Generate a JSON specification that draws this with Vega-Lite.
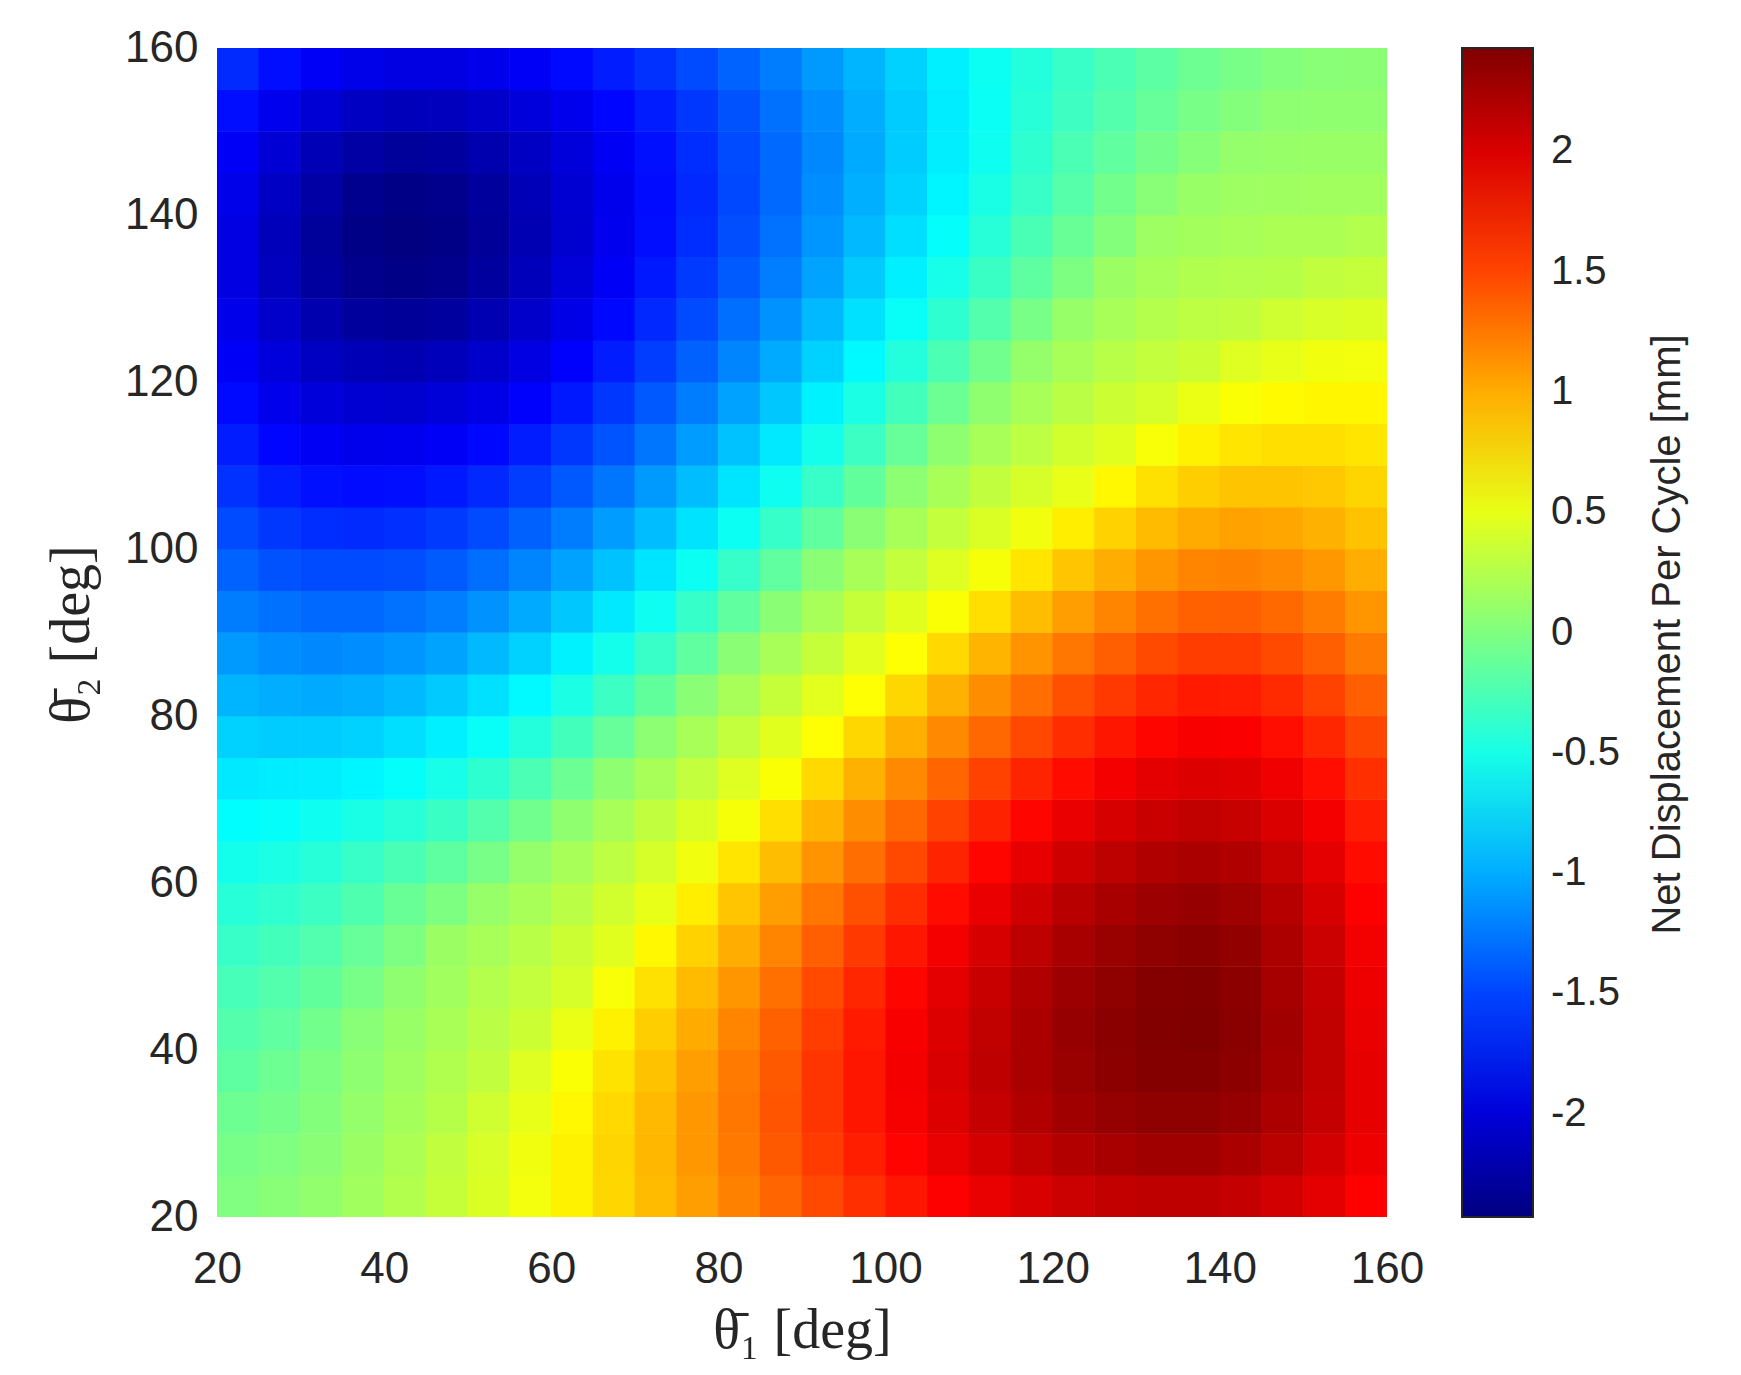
{
"$schema":"https://vega.github.io/schema/vega-lite/v6.json",
"width":1170,"height":1169,
"autosize":{"type":"none"},
"padding":{"left":217,"top":48,"right":354,"bottom":158},
"background":"white",
"config":{"view":{"stroke":null}},
"datasets":{"grid":[
{"t1":22.5,"t2":22.5,"v":0},{"t1":27.5,"t2":22.5,"v":0.04},{"t1":32.5,"t2":22.5,"v":0.09},{"t1":37.5,"t2":22.5,"v":0.16},{"t1":42.5,"t2":22.5,"v":0.24},{"t1":47.5,"t2":22.5,"v":0.33},{"t1":52.5,"t2":22.5,"v":0.43},{"t1":57.5,"t2":22.5,"v":0.55},{"t1":62.5,"t2":22.5,"v":0.67},{"t1":67.5,"t2":22.5,"v":0.8},{"t1":72.5,"t2":22.5,"v":0.93},{"t1":77.5,"t2":22.5,"v":1.07},{"t1":82.5,"t2":22.5,"v":1.21},{"t1":87.5,"t2":22.5,"v":1.34},{"t1":92.5,"t2":22.5,"v":1.48},{"t1":97.5,"t2":22.5,"v":1.6},{"t1":102.5,"t2":22.5,"v":1.72},{"t1":107.5,"t2":22.5,"v":1.83},{"t1":112.5,"t2":22.5,"v":1.93},{"t1":117.5,"t2":22.5,"v":2.01},{"t1":122.5,"t2":22.5,"v":2.07},{"t1":127.5,"t2":22.5,"v":2.11},{"t1":132.5,"t2":22.5,"v":2.13},{"t1":137.5,"t2":22.5,"v":2.13},{"t1":142.5,"t2":22.5,"v":2.1},{"t1":147.5,"t2":22.5,"v":2.04},{"t1":152.5,"t2":22.5,"v":1.95},{"t1":157.5,"t2":22.5,"v":1.83},
{"t1":22.5,"t2":27.5,"v":-0.04},{"t1":27.5,"t2":27.5,"v":0},{"t1":32.5,"t2":27.5,"v":0.05},{"t1":37.5,"t2":27.5,"v":0.13},{"t1":42.5,"t2":27.5,"v":0.21},{"t1":47.5,"t2":27.5,"v":0.31},{"t1":52.5,"t2":27.5,"v":0.42},{"t1":57.5,"t2":27.5,"v":0.54},{"t1":62.5,"t2":27.5,"v":0.67},{"t1":67.5,"t2":27.5,"v":0.81},{"t1":72.5,"t2":27.5,"v":0.95},{"t1":77.5,"t2":27.5,"v":1.1},{"t1":82.5,"t2":27.5,"v":1.25},{"t1":87.5,"t2":27.5,"v":1.4},{"t1":92.5,"t2":27.5,"v":1.54},{"t1":97.5,"t2":27.5,"v":1.68},{"t1":102.5,"t2":27.5,"v":1.81},{"t1":107.5,"t2":27.5,"v":1.93},{"t1":112.5,"t2":27.5,"v":2.03},{"t1":117.5,"t2":27.5,"v":2.12},{"t1":122.5,"t2":27.5,"v":2.19},{"t1":127.5,"t2":27.5,"v":2.24},{"t1":132.5,"t2":27.5,"v":2.27},{"t1":137.5,"t2":27.5,"v":2.27},{"t1":142.5,"t2":27.5,"v":2.23},{"t1":147.5,"t2":27.5,"v":2.15},{"t1":152.5,"t2":27.5,"v":2.04},{"t1":157.5,"t2":27.5,"v":1.9},
{"t1":22.5,"t2":32.5,"v":-0.09},{"t1":27.5,"t2":32.5,"v":-0.05},{"t1":32.5,"t2":32.5,"v":0.02},{"t1":37.5,"t2":32.5,"v":0.1},{"t1":42.5,"t2":32.5,"v":0.18},{"t1":47.5,"t2":32.5,"v":0.26},{"t1":52.5,"t2":32.5,"v":0.38},{"t1":57.5,"t2":32.5,"v":0.5},{"t1":62.5,"t2":32.5,"v":0.64},{"t1":67.5,"t2":32.5,"v":0.79},{"t1":72.5,"t2":32.5,"v":0.94},{"t1":77.5,"t2":32.5,"v":1.1},{"t1":82.5,"t2":32.5,"v":1.26},{"t1":87.5,"t2":32.5,"v":1.42},{"t1":92.5,"t2":32.5,"v":1.57},{"t1":97.5,"t2":32.5,"v":1.72},{"t1":102.5,"t2":32.5,"v":1.86},{"t1":107.5,"t2":32.5,"v":1.99},{"t1":112.5,"t2":32.5,"v":2.1},{"t1":117.5,"t2":32.5,"v":2.2},{"t1":122.5,"t2":32.5,"v":2.27},{"t1":127.5,"t2":32.5,"v":2.33},{"t1":132.5,"t2":32.5,"v":2.36},{"t1":137.5,"t2":32.5,"v":2.36},{"t1":142.5,"t2":32.5,"v":2.32},{"t1":147.5,"t2":32.5,"v":2.22},{"t1":152.5,"t2":32.5,"v":2.1},{"t1":157.5,"t2":32.5,"v":1.94},
{"t1":22.5,"t2":37.5,"v":-0.16},{"t1":27.5,"t2":37.5,"v":-0.09},{"t1":32.5,"t2":37.5,"v":-0.01},{"t1":37.5,"t2":37.5,"v":0.07},{"t1":42.5,"t2":37.5,"v":0.15},{"t1":47.5,"t2":37.5,"v":0.23},{"t1":52.5,"t2":37.5,"v":0.31},{"t1":57.5,"t2":37.5,"v":0.45},{"t1":62.5,"t2":37.5,"v":0.59},{"t1":67.5,"t2":37.5,"v":0.74},{"t1":72.5,"t2":37.5,"v":0.9},{"t1":77.5,"t2":37.5,"v":1.07},{"t1":82.5,"t2":37.5,"v":1.24},{"t1":87.5,"t2":37.5,"v":1.4},{"t1":92.5,"t2":37.5,"v":1.57},{"t1":97.5,"t2":37.5,"v":1.72},{"t1":102.5,"t2":37.5,"v":1.87},{"t1":107.5,"t2":37.5,"v":2.01},{"t1":112.5,"t2":37.5,"v":2.13},{"t1":117.5,"t2":37.5,"v":2.23},{"t1":122.5,"t2":37.5,"v":2.31},{"t1":127.5,"t2":37.5,"v":2.37},{"t1":132.5,"t2":37.5,"v":2.41},{"t1":137.5,"t2":37.5,"v":2.41},{"t1":142.5,"t2":37.5,"v":2.37},{"t1":147.5,"t2":37.5,"v":2.26},{"t1":152.5,"t2":37.5,"v":2.12},{"t1":157.5,"t2":37.5,"v":1.94},
{"t1":22.5,"t2":42.5,"v":-0.21},{"t1":27.5,"t2":42.5,"v":-0.15},{"t1":32.5,"t2":42.5,"v":-0.06},{"t1":37.5,"t2":42.5,"v":0.04},{"t1":42.5,"t2":42.5,"v":0.12},{"t1":47.5,"t2":42.5,"v":0.2},{"t1":52.5,"t2":42.5,"v":0.28},{"t1":57.5,"t2":42.5,"v":0.36},{"t1":62.5,"t2":42.5,"v":0.51},{"t1":67.5,"t2":42.5,"v":0.67},{"t1":72.5,"t2":42.5,"v":0.84},{"t1":77.5,"t2":42.5,"v":1.01},{"t1":82.5,"t2":42.5,"v":1.19},{"t1":87.5,"t2":42.5,"v":1.36},{"t1":92.5,"t2":42.5,"v":1.53},{"t1":97.5,"t2":42.5,"v":1.7},{"t1":102.5,"t2":42.5,"v":1.85},{"t1":107.5,"t2":42.5,"v":1.99},{"t1":112.5,"t2":42.5,"v":2.12},{"t1":117.5,"t2":42.5,"v":2.23},{"t1":122.5,"t2":42.5,"v":2.32},{"t1":127.5,"t2":42.5,"v":2.38},{"t1":132.5,"t2":42.5,"v":2.42},{"t1":137.5,"t2":42.5,"v":2.43},{"t1":142.5,"t2":42.5,"v":2.38},{"t1":147.5,"t2":42.5,"v":2.27},{"t1":152.5,"t2":42.5,"v":2.12},{"t1":157.5,"t2":42.5,"v":1.92},
{"t1":22.5,"t2":47.5,"v":-0.27},{"t1":27.5,"t2":47.5,"v":-0.21},{"t1":32.5,"t2":47.5,"v":-0.14},{"t1":37.5,"t2":47.5,"v":-0.04},{"t1":42.5,"t2":47.5,"v":0.08},{"t1":47.5,"t2":47.5,"v":0.16},{"t1":52.5,"t2":47.5,"v":0.25},{"t1":57.5,"t2":47.5,"v":0.32},{"t1":62.5,"t2":47.5,"v":0.41},{"t1":67.5,"t2":47.5,"v":0.58},{"t1":72.5,"t2":47.5,"v":0.75},{"t1":77.5,"t2":47.5,"v":0.93},{"t1":82.5,"t2":47.5,"v":1.11},{"t1":87.5,"t2":47.5,"v":1.29},{"t1":92.5,"t2":47.5,"v":1.47},{"t1":97.5,"t2":47.5,"v":1.64},{"t1":102.5,"t2":47.5,"v":1.8},{"t1":107.5,"t2":47.5,"v":1.95},{"t1":112.5,"t2":47.5,"v":2.08},{"t1":117.5,"t2":47.5,"v":2.2},{"t1":122.5,"t2":47.5,"v":2.29},{"t1":127.5,"t2":47.5,"v":2.36},{"t1":132.5,"t2":47.5,"v":2.41},{"t1":137.5,"t2":47.5,"v":2.42},{"t1":142.5,"t2":47.5,"v":2.37},{"t1":147.5,"t2":47.5,"v":2.25},{"t1":152.5,"t2":47.5,"v":2.1},{"t1":157.5,"t2":47.5,"v":1.9},
{"t1":22.5,"t2":52.5,"v":-0.34},{"t1":27.5,"t2":52.5,"v":-0.29},{"t1":32.5,"t2":52.5,"v":-0.22},{"t1":37.5,"t2":52.5,"v":-0.12},{"t1":42.5,"t2":52.5,"v":-0.01},{"t1":47.5,"t2":52.5,"v":0.13},{"t1":52.5,"t2":52.5,"v":0.19},{"t1":57.5,"t2":52.5,"v":0.27},{"t1":62.5,"t2":52.5,"v":0.36},{"t1":67.5,"t2":52.5,"v":0.46},{"t1":72.5,"t2":52.5,"v":0.64},{"t1":77.5,"t2":52.5,"v":0.82},{"t1":82.5,"t2":52.5,"v":1.0},{"t1":87.5,"t2":52.5,"v":1.19},{"t1":92.5,"t2":52.5,"v":1.37},{"t1":97.5,"t2":52.5,"v":1.55},{"t1":102.5,"t2":52.5,"v":1.72},{"t1":107.5,"t2":52.5,"v":1.87},{"t1":112.5,"t2":52.5,"v":2.02},{"t1":117.5,"t2":52.5,"v":2.14},{"t1":122.5,"t2":52.5,"v":2.24},{"t1":127.5,"t2":52.5,"v":2.31},{"t1":132.5,"t2":52.5,"v":2.36},{"t1":137.5,"t2":52.5,"v":2.38},{"t1":142.5,"t2":52.5,"v":2.34},{"t1":147.5,"t2":52.5,"v":2.22},{"t1":152.5,"t2":52.5,"v":2.07},{"t1":157.5,"t2":52.5,"v":1.88},
{"t1":22.5,"t2":57.5,"v":-0.42},{"t1":27.5,"t2":57.5,"v":-0.38},{"t1":32.5,"t2":57.5,"v":-0.32},{"t1":37.5,"t2":57.5,"v":-0.23},{"t1":42.5,"t2":57.5,"v":-0.11},{"t1":47.5,"t2":57.5,"v":-0.01},{"t1":52.5,"t2":57.5,"v":0.11},{"t1":57.5,"t2":57.5,"v":0.19},{"t1":62.5,"t2":57.5,"v":0.28},{"t1":67.5,"t2":57.5,"v":0.39},{"t1":72.5,"t2":57.5,"v":0.5},{"t1":77.5,"t2":57.5,"v":0.69},{"t1":82.5,"t2":57.5,"v":0.88},{"t1":87.5,"t2":57.5,"v":1.07},{"t1":92.5,"t2":57.5,"v":1.26},{"t1":97.5,"t2":57.5,"v":1.44},{"t1":102.5,"t2":57.5,"v":1.61},{"t1":107.5,"t2":57.5,"v":1.77},{"t1":112.5,"t2":57.5,"v":1.92},{"t1":117.5,"t2":57.5,"v":2.05},{"t1":122.5,"t2":57.5,"v":2.16},{"t1":127.5,"t2":57.5,"v":2.24},{"t1":132.5,"t2":57.5,"v":2.29},{"t1":137.5,"t2":57.5,"v":2.32},{"t1":142.5,"t2":57.5,"v":2.28},{"t1":147.5,"t2":57.5,"v":2.17},{"t1":152.5,"t2":57.5,"v":2.02},{"t1":157.5,"t2":57.5,"v":1.83},
{"t1":22.5,"t2":62.5,"v":-0.51},{"t1":27.5,"t2":62.5,"v":-0.48},{"t1":32.5,"t2":62.5,"v":-0.42},{"t1":37.5,"t2":62.5,"v":-0.34},{"t1":42.5,"t2":62.5,"v":-0.26},{"t1":47.5,"t2":62.5,"v":-0.16},{"t1":52.5,"t2":62.5,"v":-0.04},{"t1":57.5,"t2":62.5,"v":0.1},{"t1":62.5,"t2":62.5,"v":0.19},{"t1":67.5,"t2":62.5,"v":0.29},{"t1":72.5,"t2":62.5,"v":0.41},{"t1":77.5,"t2":62.5,"v":0.54},{"t1":82.5,"t2":62.5,"v":0.73},{"t1":87.5,"t2":62.5,"v":0.92},{"t1":92.5,"t2":62.5,"v":1.12},{"t1":97.5,"t2":62.5,"v":1.3},{"t1":102.5,"t2":62.5,"v":1.48},{"t1":107.5,"t2":62.5,"v":1.65},{"t1":112.5,"t2":62.5,"v":1.8},{"t1":117.5,"t2":62.5,"v":1.94},{"t1":122.5,"t2":62.5,"v":2.05},{"t1":127.5,"t2":62.5,"v":2.14},{"t1":132.5,"t2":62.5,"v":2.2},{"t1":137.5,"t2":62.5,"v":2.23},{"t1":142.5,"t2":62.5,"v":2.2},{"t1":147.5,"t2":62.5,"v":2.09},{"t1":152.5,"t2":62.5,"v":1.95},{"t1":157.5,"t2":62.5,"v":1.77},
{"t1":22.5,"t2":67.5,"v":-0.61},{"t1":27.5,"t2":67.5,"v":-0.59},{"t1":32.5,"t2":67.5,"v":-0.54},{"t1":37.5,"t2":67.5,"v":-0.49},{"t1":42.5,"t2":67.5,"v":-0.42},{"t1":47.5,"t2":67.5,"v":-0.33},{"t1":52.5,"t2":67.5,"v":-0.21},{"t1":57.5,"t2":67.5,"v":-0.07},{"t1":62.5,"t2":67.5,"v":0.08},{"t1":67.5,"t2":67.5,"v":0.19},{"t1":72.5,"t2":67.5,"v":0.31},{"t1":77.5,"t2":67.5,"v":0.43},{"t1":82.5,"t2":67.5,"v":0.57},{"t1":87.5,"t2":67.5,"v":0.76},{"t1":92.5,"t2":67.5,"v":0.96},{"t1":97.5,"t2":67.5,"v":1.15},{"t1":102.5,"t2":67.5,"v":1.33},{"t1":107.5,"t2":67.5,"v":1.51},{"t1":112.5,"t2":67.5,"v":1.66},{"t1":117.5,"t2":67.5,"v":1.8},{"t1":122.5,"t2":67.5,"v":1.92},{"t1":127.5,"t2":67.5,"v":2.02},{"t1":132.5,"t2":67.5,"v":2.08},{"t1":137.5,"t2":67.5,"v":2.12},{"t1":142.5,"t2":67.5,"v":2.09},{"t1":147.5,"t2":67.5,"v":2.0},{"t1":152.5,"t2":67.5,"v":1.87},{"t1":157.5,"t2":67.5,"v":1.69},
{"t1":22.5,"t2":72.5,"v":-0.71},{"t1":27.5,"t2":72.5,"v":-0.7},{"t1":32.5,"t2":72.5,"v":-0.69},{"t1":37.5,"t2":72.5,"v":-0.65},{"t1":42.5,"t2":72.5,"v":-0.59},{"t1":47.5,"t2":72.5,"v":-0.5},{"t1":52.5,"t2":72.5,"v":-0.39},{"t1":57.5,"t2":72.5,"v":-0.25},{"t1":62.5,"t2":72.5,"v":-0.1},{"t1":67.5,"t2":72.5,"v":0.07},{"t1":72.5,"t2":72.5,"v":0.19},{"t1":77.5,"t2":72.5,"v":0.32},{"t1":82.5,"t2":72.5,"v":0.45},{"t1":87.5,"t2":72.5,"v":0.59},{"t1":92.5,"t2":72.5,"v":0.79},{"t1":97.5,"t2":72.5,"v":0.98},{"t1":102.5,"t2":72.5,"v":1.17},{"t1":107.5,"t2":72.5,"v":1.34},{"t1":112.5,"t2":72.5,"v":1.51},{"t1":117.5,"t2":72.5,"v":1.65},{"t1":122.5,"t2":72.5,"v":1.77},{"t1":127.5,"t2":72.5,"v":1.87},{"t1":132.5,"t2":72.5,"v":1.95},{"t1":137.5,"t2":72.5,"v":1.99},{"t1":142.5,"t2":72.5,"v":1.97},{"t1":147.5,"t2":72.5,"v":1.89},{"t1":152.5,"t2":72.5,"v":1.76},{"t1":157.5,"t2":72.5,"v":1.6},
{"t1":22.5,"t2":77.5,"v":-0.82},{"t1":27.5,"t2":77.5,"v":-0.85},{"t1":32.5,"t2":77.5,"v":-0.85},{"t1":37.5,"t2":77.5,"v":-0.82},{"t1":42.5,"t2":77.5,"v":-0.76},{"t1":47.5,"t2":77.5,"v":-0.68},{"t1":52.5,"t2":77.5,"v":-0.57},{"t1":57.5,"t2":77.5,"v":-0.44},{"t1":62.5,"t2":77.5,"v":-0.29},{"t1":67.5,"t2":77.5,"v":-0.12},{"t1":72.5,"t2":77.5,"v":0.06},{"t1":77.5,"t2":77.5,"v":0.19},{"t1":82.5,"t2":77.5,"v":0.32},{"t1":87.5,"t2":77.5,"v":0.46},{"t1":92.5,"t2":77.5,"v":0.6},{"t1":97.5,"t2":77.5,"v":0.8},{"t1":102.5,"t2":77.5,"v":0.99},{"t1":107.5,"t2":77.5,"v":1.17},{"t1":112.5,"t2":77.5,"v":1.33},{"t1":117.5,"t2":77.5,"v":1.48},{"t1":122.5,"t2":77.5,"v":1.61},{"t1":127.5,"t2":77.5,"v":1.72},{"t1":132.5,"t2":77.5,"v":1.8},{"t1":137.5,"t2":77.5,"v":1.85},{"t1":142.5,"t2":77.5,"v":1.84},{"t1":147.5,"t2":77.5,"v":1.76},{"t1":152.5,"t2":77.5,"v":1.64},{"t1":157.5,"t2":77.5,"v":1.49},
{"t1":22.5,"t2":82.5,"v":-0.96},{"t1":27.5,"t2":82.5,"v":-1.0},{"t1":32.5,"t2":82.5,"v":-1.01},{"t1":37.5,"t2":82.5,"v":-0.99},{"t1":42.5,"t2":82.5,"v":-0.94},{"t1":47.5,"t2":82.5,"v":-0.86},{"t1":52.5,"t2":82.5,"v":-0.75},{"t1":57.5,"t2":82.5,"v":-0.63},{"t1":62.5,"t2":82.5,"v":-0.48},{"t1":67.5,"t2":82.5,"v":-0.32},{"t1":72.5,"t2":82.5,"v":-0.14},{"t1":77.5,"t2":82.5,"v":0.05},{"t1":82.5,"t2":82.5,"v":0.19},{"t1":87.5,"t2":82.5,"v":0.33},{"t1":92.5,"t2":82.5,"v":0.47},{"t1":97.5,"t2":82.5,"v":0.6},{"t1":102.5,"t2":82.5,"v":0.8},{"t1":107.5,"t2":82.5,"v":0.98},{"t1":112.5,"t2":82.5,"v":1.15},{"t1":117.5,"t2":82.5,"v":1.3},{"t1":122.5,"t2":82.5,"v":1.44},{"t1":127.5,"t2":82.5,"v":1.55},{"t1":132.5,"t2":82.5,"v":1.64},{"t1":137.5,"t2":82.5,"v":1.7},{"t1":142.5,"t2":82.5,"v":1.69},{"t1":147.5,"t2":82.5,"v":1.62},{"t1":152.5,"t2":82.5,"v":1.51},{"t1":157.5,"t2":82.5,"v":1.37},
{"t1":22.5,"t2":87.5,"v":-1.09},{"t1":27.5,"t2":87.5,"v":-1.15},{"t1":32.5,"t2":87.5,"v":-1.17},{"t1":37.5,"t2":87.5,"v":-1.15},{"t1":42.5,"t2":87.5,"v":-1.11},{"t1":47.5,"t2":87.5,"v":-1.04},{"t1":52.5,"t2":87.5,"v":-0.94},{"t1":57.5,"t2":87.5,"v":-0.82},{"t1":62.5,"t2":87.5,"v":-0.67},{"t1":67.5,"t2":87.5,"v":-0.51},{"t1":72.5,"t2":87.5,"v":-0.34},{"t1":77.5,"t2":87.5,"v":-0.15},{"t1":82.5,"t2":87.5,"v":0.05},{"t1":87.5,"t2":87.5,"v":0.19},{"t1":92.5,"t2":87.5,"v":0.33},{"t1":97.5,"t2":87.5,"v":0.47},{"t1":102.5,"t2":87.5,"v":0.6},{"t1":107.5,"t2":87.5,"v":0.79},{"t1":112.5,"t2":87.5,"v":0.96},{"t1":117.5,"t2":87.5,"v":1.12},{"t1":122.5,"t2":87.5,"v":1.26},{"t1":127.5,"t2":87.5,"v":1.37},{"t1":132.5,"t2":87.5,"v":1.47},{"t1":137.5,"t2":87.5,"v":1.53},{"t1":142.5,"t2":87.5,"v":1.53},{"t1":147.5,"t2":87.5,"v":1.47},{"t1":152.5,"t2":87.5,"v":1.37},{"t1":157.5,"t2":87.5,"v":1.24},
{"t1":22.5,"t2":92.5,"v":-1.23},{"t1":27.5,"t2":92.5,"v":-1.29},{"t1":32.5,"t2":92.5,"v":-1.32},{"t1":37.5,"t2":92.5,"v":-1.32},{"t1":42.5,"t2":92.5,"v":-1.28},{"t1":47.5,"t2":92.5,"v":-1.22},{"t1":52.5,"t2":92.5,"v":-1.12},{"t1":57.5,"t2":92.5,"v":-1.01},{"t1":62.5,"t2":92.5,"v":-0.87},{"t1":67.5,"t2":92.5,"v":-0.71},{"t1":72.5,"t2":92.5,"v":-0.54},{"t1":77.5,"t2":92.5,"v":-0.35},{"t1":82.5,"t2":92.5,"v":-0.15},{"t1":87.5,"t2":92.5,"v":0.05},{"t1":92.5,"t2":92.5,"v":0.19},{"t1":97.5,"t2":92.5,"v":0.33},{"t1":102.5,"t2":92.5,"v":0.46},{"t1":107.5,"t2":92.5,"v":0.59},{"t1":112.5,"t2":92.5,"v":0.76},{"t1":117.5,"t2":92.5,"v":0.92},{"t1":122.5,"t2":92.5,"v":1.07},{"t1":127.5,"t2":92.5,"v":1.19},{"t1":132.5,"t2":92.5,"v":1.29},{"t1":137.5,"t2":92.5,"v":1.36},{"t1":142.5,"t2":92.5,"v":1.37},{"t1":147.5,"t2":92.5,"v":1.32},{"t1":152.5,"t2":92.5,"v":1.23},{"t1":157.5,"t2":92.5,"v":1.11},
{"t1":22.5,"t2":97.5,"v":-1.35},{"t1":27.5,"t2":97.5,"v":-1.43},{"t1":32.5,"t2":97.5,"v":-1.47},{"t1":37.5,"t2":97.5,"v":-1.47},{"t1":42.5,"t2":97.5,"v":-1.45},{"t1":47.5,"t2":97.5,"v":-1.39},{"t1":52.5,"t2":97.5,"v":-1.3},{"t1":57.5,"t2":97.5,"v":-1.19},{"t1":62.5,"t2":97.5,"v":-1.05},{"t1":67.5,"t2":97.5,"v":-0.9},{"t1":72.5,"t2":97.5,"v":-0.73},{"t1":77.5,"t2":97.5,"v":-0.55},{"t1":82.5,"t2":97.5,"v":-0.35},{"t1":87.5,"t2":97.5,"v":-0.15},{"t1":92.5,"t2":97.5,"v":0.05},{"t1":97.5,"t2":97.5,"v":0.19},{"t1":102.5,"t2":97.5,"v":0.32},{"t1":107.5,"t2":97.5,"v":0.45},{"t1":112.5,"t2":97.5,"v":0.57},{"t1":117.5,"t2":97.5,"v":0.73},{"t1":122.5,"t2":97.5,"v":0.88},{"t1":127.5,"t2":97.5,"v":1.0},{"t1":132.5,"t2":97.5,"v":1.11},{"t1":137.5,"t2":97.5,"v":1.19},{"t1":142.5,"t2":97.5,"v":1.21},{"t1":147.5,"t2":97.5,"v":1.17},{"t1":152.5,"t2":97.5,"v":1.1},{"t1":157.5,"t2":97.5,"v":1.0},
{"t1":22.5,"t2":102.5,"v":-1.47},{"t1":27.5,"t2":102.5,"v":-1.56},{"t1":32.5,"t2":102.5,"v":-1.61},{"t1":37.5,"t2":102.5,"v":-1.62},{"t1":42.5,"t2":102.5,"v":-1.6},{"t1":47.5,"t2":102.5,"v":-1.55},{"t1":52.5,"t2":102.5,"v":-1.47},{"t1":57.5,"t2":102.5,"v":-1.36},{"t1":62.5,"t2":102.5,"v":-1.23},{"t1":67.5,"t2":102.5,"v":-1.08},{"t1":72.5,"t2":102.5,"v":-0.92},{"t1":77.5,"t2":102.5,"v":-0.74},{"t1":82.5,"t2":102.5,"v":-0.55},{"t1":87.5,"t2":102.5,"v":-0.35},{"t1":92.5,"t2":102.5,"v":-0.15},{"t1":97.5,"t2":102.5,"v":0.05},{"t1":102.5,"t2":102.5,"v":0.19},{"t1":107.5,"t2":102.5,"v":0.32},{"t1":112.5,"t2":102.5,"v":0.43},{"t1":117.5,"t2":102.5,"v":0.54},{"t1":122.5,"t2":102.5,"v":0.69},{"t1":127.5,"t2":102.5,"v":0.82},{"t1":132.5,"t2":102.5,"v":0.93},{"t1":137.5,"t2":102.5,"v":1.01},{"t1":142.5,"t2":102.5,"v":1.05},{"t1":147.5,"t2":102.5,"v":1.03},{"t1":152.5,"t2":102.5,"v":0.98},{"t1":157.5,"t2":102.5,"v":0.9},
{"t1":22.5,"t2":107.5,"v":-1.59},{"t1":27.5,"t2":107.5,"v":-1.69},{"t1":32.5,"t2":107.5,"v":-1.75},{"t1":37.5,"t2":107.5,"v":-1.77},{"t1":42.5,"t2":107.5,"v":-1.76},{"t1":47.5,"t2":107.5,"v":-1.71},{"t1":52.5,"t2":107.5,"v":-1.63},{"t1":57.5,"t2":107.5,"v":-1.53},{"t1":62.5,"t2":107.5,"v":-1.4},{"t1":67.5,"t2":107.5,"v":-1.26},{"t1":72.5,"t2":107.5,"v":-1.09},{"t1":77.5,"t2":107.5,"v":-0.92},{"t1":82.5,"t2":107.5,"v":-0.73},{"t1":87.5,"t2":107.5,"v":-0.54},{"t1":92.5,"t2":107.5,"v":-0.34},{"t1":97.5,"t2":107.5,"v":-0.14},{"t1":102.5,"t2":107.5,"v":0.06},{"t1":107.5,"t2":107.5,"v":0.19},{"t1":112.5,"t2":107.5,"v":0.31},{"t1":117.5,"t2":107.5,"v":0.41},{"t1":122.5,"t2":107.5,"v":0.5},{"t1":127.5,"t2":107.5,"v":0.64},{"t1":132.5,"t2":107.5,"v":0.75},{"t1":137.5,"t2":107.5,"v":0.84},{"t1":142.5,"t2":107.5,"v":0.89},{"t1":147.5,"t2":107.5,"v":0.89},{"t1":152.5,"t2":107.5,"v":0.87},{"t1":157.5,"t2":107.5,"v":0.81},
{"t1":22.5,"t2":112.5,"v":-1.69},{"t1":27.5,"t2":112.5,"v":-1.8},{"t1":32.5,"t2":112.5,"v":-1.87},{"t1":37.5,"t2":112.5,"v":-1.91},{"t1":42.5,"t2":112.5,"v":-1.9},{"t1":47.5,"t2":112.5,"v":-1.86},{"t1":52.5,"t2":112.5,"v":-1.79},{"t1":57.5,"t2":112.5,"v":-1.69},{"t1":62.5,"t2":112.5,"v":-1.56},{"t1":67.5,"t2":112.5,"v":-1.42},{"t1":72.5,"t2":112.5,"v":-1.26},{"t1":77.5,"t2":112.5,"v":-1.08},{"t1":82.5,"t2":112.5,"v":-0.9},{"t1":87.5,"t2":112.5,"v":-0.71},{"t1":92.5,"t2":112.5,"v":-0.51},{"t1":97.5,"t2":112.5,"v":-0.32},{"t1":102.5,"t2":112.5,"v":-0.12},{"t1":107.5,"t2":112.5,"v":0.07},{"t1":112.5,"t2":112.5,"v":0.19},{"t1":117.5,"t2":112.5,"v":0.29},{"t1":122.5,"t2":112.5,"v":0.39},{"t1":127.5,"t2":112.5,"v":0.46},{"t1":132.5,"t2":112.5,"v":0.58},{"t1":137.5,"t2":112.5,"v":0.67},{"t1":142.5,"t2":112.5,"v":0.73},{"t1":147.5,"t2":112.5,"v":0.76},{"t1":152.5,"t2":112.5,"v":0.76},{"t1":157.5,"t2":112.5,"v":0.73},
{"t1":22.5,"t2":117.5,"v":-1.78},{"t1":27.5,"t2":117.5,"v":-1.91},{"t1":32.5,"t2":117.5,"v":-2.0},{"t1":37.5,"t2":117.5,"v":-2.04},{"t1":42.5,"t2":117.5,"v":-2.05},{"t1":47.5,"t2":117.5,"v":-2.01},{"t1":52.5,"t2":117.5,"v":-1.94},{"t1":57.5,"t2":117.5,"v":-1.83},{"t1":62.5,"t2":117.5,"v":-1.71},{"t1":67.5,"t2":117.5,"v":-1.56},{"t1":72.5,"t2":117.5,"v":-1.4},{"t1":77.5,"t2":117.5,"v":-1.23},{"t1":82.5,"t2":117.5,"v":-1.05},{"t1":87.5,"t2":117.5,"v":-0.87},{"t1":92.5,"t2":117.5,"v":-0.67},{"t1":97.5,"t2":117.5,"v":-0.48},{"t1":102.5,"t2":117.5,"v":-0.29},{"t1":107.5,"t2":117.5,"v":-0.1},{"t1":112.5,"t2":117.5,"v":0.08},{"t1":117.5,"t2":117.5,"v":0.19},{"t1":122.5,"t2":117.5,"v":0.28},{"t1":127.5,"t2":117.5,"v":0.36},{"t1":132.5,"t2":117.5,"v":0.41},{"t1":137.5,"t2":117.5,"v":0.51},{"t1":142.5,"t2":117.5,"v":0.59},{"t1":147.5,"t2":117.5,"v":0.63},{"t1":152.5,"t2":117.5,"v":0.65},{"t1":157.5,"t2":117.5,"v":0.65},
{"t1":22.5,"t2":122.5,"v":-1.86},{"t1":27.5,"t2":122.5,"v":-2.0},{"t1":32.5,"t2":122.5,"v":-2.11},{"t1":37.5,"t2":122.5,"v":-2.17},{"t1":42.5,"t2":122.5,"v":-2.19},{"t1":47.5,"t2":122.5,"v":-2.15},{"t1":52.5,"t2":122.5,"v":-2.07},{"t1":57.5,"t2":122.5,"v":-1.96},{"t1":62.5,"t2":122.5,"v":-1.83},{"t1":67.5,"t2":122.5,"v":-1.69},{"t1":72.5,"t2":122.5,"v":-1.53},{"t1":77.5,"t2":122.5,"v":-1.36},{"t1":82.5,"t2":122.5,"v":-1.19},{"t1":87.5,"t2":122.5,"v":-1.01},{"t1":92.5,"t2":122.5,"v":-0.82},{"t1":97.5,"t2":122.5,"v":-0.63},{"t1":102.5,"t2":122.5,"v":-0.44},{"t1":107.5,"t2":122.5,"v":-0.25},{"t1":112.5,"t2":122.5,"v":-0.07},{"t1":117.5,"t2":122.5,"v":0.1},{"t1":122.5,"t2":122.5,"v":0.19},{"t1":127.5,"t2":122.5,"v":0.27},{"t1":132.5,"t2":122.5,"v":0.32},{"t1":137.5,"t2":122.5,"v":0.36},{"t1":142.5,"t2":122.5,"v":0.45},{"t1":147.5,"t2":122.5,"v":0.5},{"t1":152.5,"t2":122.5,"v":0.54},{"t1":157.5,"t2":122.5,"v":0.55},
{"t1":22.5,"t2":127.5,"v":-1.92},{"t1":27.5,"t2":127.5,"v":-2.08},{"t1":32.5,"t2":127.5,"v":-2.21},{"t1":37.5,"t2":127.5,"v":-2.29},{"t1":42.5,"t2":127.5,"v":-2.31},{"t1":47.5,"t2":127.5,"v":-2.28},{"t1":52.5,"t2":127.5,"v":-2.19},{"t1":57.5,"t2":127.5,"v":-2.07},{"t1":62.5,"t2":127.5,"v":-1.94},{"t1":67.5,"t2":127.5,"v":-1.79},{"t1":72.5,"t2":127.5,"v":-1.63},{"t1":77.5,"t2":127.5,"v":-1.47},{"t1":82.5,"t2":127.5,"v":-1.3},{"t1":87.5,"t2":127.5,"v":-1.12},{"t1":92.5,"t2":127.5,"v":-0.94},{"t1":97.5,"t2":127.5,"v":-0.75},{"t1":102.5,"t2":127.5,"v":-0.57},{"t1":107.5,"t2":127.5,"v":-0.39},{"t1":112.5,"t2":127.5,"v":-0.21},{"t1":117.5,"t2":127.5,"v":-0.04},{"t1":122.5,"t2":127.5,"v":0.11},{"t1":127.5,"t2":127.5,"v":0.19},{"t1":132.5,"t2":127.5,"v":0.25},{"t1":137.5,"t2":127.5,"v":0.29},{"t1":142.5,"t2":127.5,"v":0.31},{"t1":147.5,"t2":127.5,"v":0.38},{"t1":152.5,"t2":127.5,"v":0.42},{"t1":157.5,"t2":127.5,"v":0.44},
{"t1":22.5,"t2":132.5,"v":-1.96},{"t1":27.5,"t2":132.5,"v":-2.14},{"t1":32.5,"t2":132.5,"v":-2.28},{"t1":37.5,"t2":132.5,"v":-2.37},{"t1":42.5,"t2":132.5,"v":-2.4},{"t1":47.5,"t2":132.5,"v":-2.37},{"t1":52.5,"t2":132.5,"v":-2.28},{"t1":57.5,"t2":132.5,"v":-2.15},{"t1":62.5,"t2":132.5,"v":-2.01},{"t1":67.5,"t2":132.5,"v":-1.86},{"t1":72.5,"t2":132.5,"v":-1.71},{"t1":77.5,"t2":132.5,"v":-1.55},{"t1":82.5,"t2":132.5,"v":-1.39},{"t1":87.5,"t2":132.5,"v":-1.22},{"t1":92.5,"t2":132.5,"v":-1.04},{"t1":97.5,"t2":132.5,"v":-0.86},{"t1":102.5,"t2":132.5,"v":-0.68},{"t1":107.5,"t2":132.5,"v":-0.5},{"t1":112.5,"t2":132.5,"v":-0.33},{"t1":117.5,"t2":132.5,"v":-0.16},{"t1":122.5,"t2":132.5,"v":-0.01},{"t1":127.5,"t2":132.5,"v":0.13},{"t1":132.5,"t2":132.5,"v":0.19},{"t1":137.5,"t2":132.5,"v":0.23},{"t1":142.5,"t2":132.5,"v":0.25},{"t1":147.5,"t2":132.5,"v":0.26},{"t1":152.5,"t2":132.5,"v":0.31},{"t1":157.5,"t2":132.5,"v":0.33},
{"t1":22.5,"t2":137.5,"v":-1.96},{"t1":27.5,"t2":137.5,"v":-2.15},{"t1":32.5,"t2":137.5,"v":-2.3},{"t1":37.5,"t2":137.5,"v":-2.4},{"t1":42.5,"t2":137.5,"v":-2.43},{"t1":47.5,"t2":137.5,"v":-2.4},{"t1":52.5,"t2":137.5,"v":-2.31},{"t1":57.5,"t2":137.5,"v":-2.19},{"t1":62.5,"t2":137.5,"v":-2.05},{"t1":67.5,"t2":137.5,"v":-1.9},{"t1":72.5,"t2":137.5,"v":-1.76},{"t1":77.5,"t2":137.5,"v":-1.61},{"t1":82.5,"t2":137.5,"v":-1.45},{"t1":87.5,"t2":137.5,"v":-1.28},{"t1":92.5,"t2":137.5,"v":-1.11},{"t1":97.5,"t2":137.5,"v":-0.94},{"t1":102.5,"t2":137.5,"v":-0.76},{"t1":107.5,"t2":137.5,"v":-0.59},{"t1":112.5,"t2":137.5,"v":-0.42},{"t1":117.5,"t2":137.5,"v":-0.26},{"t1":122.5,"t2":137.5,"v":-0.11},{"t1":127.5,"t2":137.5,"v":0.02},{"t1":132.5,"t2":137.5,"v":0.14},{"t1":137.5,"t2":137.5,"v":0.17},{"t1":142.5,"t2":137.5,"v":0.19},{"t1":147.5,"t2":137.5,"v":0.21},{"t1":152.5,"t2":137.5,"v":0.21},{"t1":157.5,"t2":137.5,"v":0.24},
{"t1":22.5,"t2":142.5,"v":-1.93},{"t1":27.5,"t2":142.5,"v":-2.11},{"t1":32.5,"t2":142.5,"v":-2.26},{"t1":37.5,"t2":142.5,"v":-2.36},{"t1":42.5,"t2":142.5,"v":-2.4},{"t1":47.5,"t2":142.5,"v":-2.37},{"t1":52.5,"t2":142.5,"v":-2.29},{"t1":57.5,"t2":142.5,"v":-2.17},{"t1":62.5,"t2":142.5,"v":-2.04},{"t1":67.5,"t2":142.5,"v":-1.91},{"t1":72.5,"t2":142.5,"v":-1.77},{"t1":77.5,"t2":142.5,"v":-1.63},{"t1":82.5,"t2":142.5,"v":-1.48},{"t1":87.5,"t2":142.5,"v":-1.32},{"t1":92.5,"t2":142.5,"v":-1.15},{"t1":97.5,"t2":142.5,"v":-0.99},{"t1":102.5,"t2":142.5,"v":-0.82},{"t1":107.5,"t2":142.5,"v":-0.65},{"t1":112.5,"t2":142.5,"v":-0.49},{"t1":117.5,"t2":142.5,"v":-0.34},{"t1":122.5,"t2":142.5,"v":-0.2},{"t1":127.5,"t2":142.5,"v":-0.06},{"t1":132.5,"t2":142.5,"v":0.04},{"t1":137.5,"t2":142.5,"v":0.12},{"t1":142.5,"t2":142.5,"v":0.14},{"t1":147.5,"t2":142.5,"v":0.15},{"t1":152.5,"t2":142.5,"v":0.16},{"t1":157.5,"t2":142.5,"v":0.16},
{"t1":22.5,"t2":147.5,"v":-1.86},{"t1":27.5,"t2":147.5,"v":-2.03},{"t1":32.5,"t2":147.5,"v":-2.17},{"t1":37.5,"t2":147.5,"v":-2.26},{"t1":42.5,"t2":147.5,"v":-2.3},{"t1":47.5,"t2":147.5,"v":-2.28},{"t1":52.5,"t2":147.5,"v":-2.21},{"t1":57.5,"t2":147.5,"v":-2.11},{"t1":62.5,"t2":147.5,"v":-2.0},{"t1":67.5,"t2":147.5,"v":-1.87},{"t1":72.5,"t2":147.5,"v":-1.75},{"t1":77.5,"t2":147.5,"v":-1.61},{"t1":82.5,"t2":147.5,"v":-1.47},{"t1":87.5,"t2":147.5,"v":-1.32},{"t1":92.5,"t2":147.5,"v":-1.17},{"t1":97.5,"t2":147.5,"v":-1.01},{"t1":102.5,"t2":147.5,"v":-0.85},{"t1":107.5,"t2":147.5,"v":-0.69},{"t1":112.5,"t2":147.5,"v":-0.54},{"t1":117.5,"t2":147.5,"v":-0.39},{"t1":122.5,"t2":147.5,"v":-0.25},{"t1":127.5,"t2":147.5,"v":-0.15},{"t1":132.5,"t2":147.5,"v":-0.05},{"t1":137.5,"t2":147.5,"v":0.03},{"t1":142.5,"t2":147.5,"v":0.1},{"t1":147.5,"t2":147.5,"v":0.11},{"t1":152.5,"t2":147.5,"v":0.12},{"t1":157.5,"t2":147.5,"v":0.12},
{"t1":22.5,"t2":152.5,"v":-1.76},{"t1":27.5,"t2":152.5,"v":-1.91},{"t1":32.5,"t2":152.5,"v":-2.03},{"t1":37.5,"t2":152.5,"v":-2.11},{"t1":42.5,"t2":152.5,"v":-2.15},{"t1":47.5,"t2":152.5,"v":-2.14},{"t1":52.5,"t2":152.5,"v":-2.08},{"t1":57.5,"t2":152.5,"v":-2.0},{"t1":62.5,"t2":152.5,"v":-1.91},{"t1":67.5,"t2":152.5,"v":-1.8},{"t1":72.5,"t2":152.5,"v":-1.69},{"t1":77.5,"t2":152.5,"v":-1.56},{"t1":82.5,"t2":152.5,"v":-1.43},{"t1":87.5,"t2":152.5,"v":-1.29},{"t1":92.5,"t2":152.5,"v":-1.15},{"t1":97.5,"t2":152.5,"v":-1.0},{"t1":102.5,"t2":152.5,"v":-0.85},{"t1":107.5,"t2":152.5,"v":-0.7},{"t1":112.5,"t2":152.5,"v":-0.56},{"t1":117.5,"t2":152.5,"v":-0.42},{"t1":122.5,"t2":152.5,"v":-0.31},{"t1":127.5,"t2":152.5,"v":-0.21},{"t1":132.5,"t2":152.5,"v":-0.12},{"t1":137.5,"t2":152.5,"v":-0.04},{"t1":142.5,"t2":152.5,"v":0.02},{"t1":147.5,"t2":152.5,"v":0.07},{"t1":152.5,"t2":152.5,"v":0.08},{"t1":157.5,"t2":152.5,"v":0.08},
{"t1":22.5,"t2":157.5,"v":-1.62},{"t1":27.5,"t2":157.5,"v":-1.76},{"t1":32.5,"t2":157.5,"v":-1.86},{"t1":37.5,"t2":157.5,"v":-1.93},{"t1":42.5,"t2":157.5,"v":-1.96},{"t1":47.5,"t2":157.5,"v":-1.96},{"t1":52.5,"t2":157.5,"v":-1.92},{"t1":57.5,"t2":157.5,"v":-1.86},{"t1":62.5,"t2":157.5,"v":-1.78},{"t1":67.5,"t2":157.5,"v":-1.69},{"t1":72.5,"t2":157.5,"v":-1.59},{"t1":77.5,"t2":157.5,"v":-1.47},{"t1":82.5,"t2":157.5,"v":-1.35},{"t1":87.5,"t2":157.5,"v":-1.23},{"t1":92.5,"t2":157.5,"v":-1.09},{"t1":97.5,"t2":157.5,"v":-0.96},{"t1":102.5,"t2":157.5,"v":-0.82},{"t1":107.5,"t2":157.5,"v":-0.68},{"t1":112.5,"t2":157.5,"v":-0.55},{"t1":117.5,"t2":157.5,"v":-0.44},{"t1":122.5,"t2":157.5,"v":-0.34},{"t1":127.5,"t2":157.5,"v":-0.25},{"t1":132.5,"t2":157.5,"v":-0.17},{"t1":137.5,"t2":157.5,"v":-0.09},{"t1":142.5,"t2":157.5,"v":-0.04},{"t1":147.5,"t2":157.5,"v":0.01},{"t1":152.5,"t2":157.5,"v":0.04},{"t1":157.5,"t2":157.5,"v":0.05}
]},
"data":{"name":"grid"},
"layer":[
{"mark":{"type":"rect","width":42.4,"height":42.4,"clip":true},
"encoding":{
"x":{"field":"t1","type":"quantitative","scale":{"domain":[20,160],"nice":false,"zero":false},
"axis":{"values":[20,40,60,80,100,120,140,160],"title":"θ̄₁ [deg]","grid":false,"domain":false,"ticks":false,"tickSize":0,"labelFlush":false,"labelOverlap":false,"labelFont":"Liberation Sans","labelFontSize":44,"labelColor":"#262626","labelPadding":30,"titleFont":"Liberation Serif","titleFontSize":56,"titleFontWeight":"normal","titleColor":"#262626","titleX":585,"titleY":130,"titleBaseline":"alphabetic","titleAlign":"center","titleAnchor":null}},
"y":{"field":"t2","type":"quantitative","scale":{"domain":[20,160],"nice":false,"zero":false},
"axis":{"orient":"left","values":[20,40,60,80,100,120,140,160],"title":"θ̄₂ [deg]","grid":false,"domain":false,"ticks":false,"tickSize":0,"labelFlush":false,"labelOverlap":false,"labelFont":"Liberation Sans","labelFontSize":44,"labelColor":"#262626","labelPadding":19,"titleFont":"Liberation Serif","titleFontSize":56,"titleFontWeight":"normal","titleColor":"#262626","titleAngle":270,"titleX":-129,"titleY":586,"titleBaseline":"alphabetic","titleAlign":"center","titleAnchor":null}},
"color":{"field":"v","type":"quantitative",
"scale":{"type":"linear","domain":[-2.43,-1.8225,-0.6075,0.6075,1.8225,2.43],"range":["#000080","#0000ff","#00ffff","#ffff00","#ff0000","#800000"],"interpolate":"rgb"},
"legend":{"orient":"none","legendX":1245,"legendY":0,"direction":"vertical","padding":0,"gradientLength":1169,"gradientThickness":71,"gradientStrokeColor":"#262626","gradientStrokeWidth":2,"values":[-2,-1.5,-1,-0.5,0,0.5,1,1.5,2],"labelExpr":"'' + datum.value","labelFont":"Liberation Sans","labelFontSize":40,"labelColor":"#262626","labelOffset":18,"labelOverlap":false,"title":null}}
}},
{"mark":{"type":"point","opacity":0},
"encoding":{
"y":{"field":"t2","type":"quantitative",
"axis":{"orient":"right","labels":false,"ticks":false,"domain":false,"grid":false,"title":"Net Displacement Per Cycle [mm]","titleFont":"Liberation Sans","titleFontSize":40,"titleFontWeight":"normal","titleColor":"#262626","titleAngle":270,"titleX":292,"titleY":586,"titleBaseline":"alphabetic","titleAlign":"center","titleAnchor":null,"titleLimit":2000}}
}}
],
"resolve":{"axis":{"y":"independent"}}
}
